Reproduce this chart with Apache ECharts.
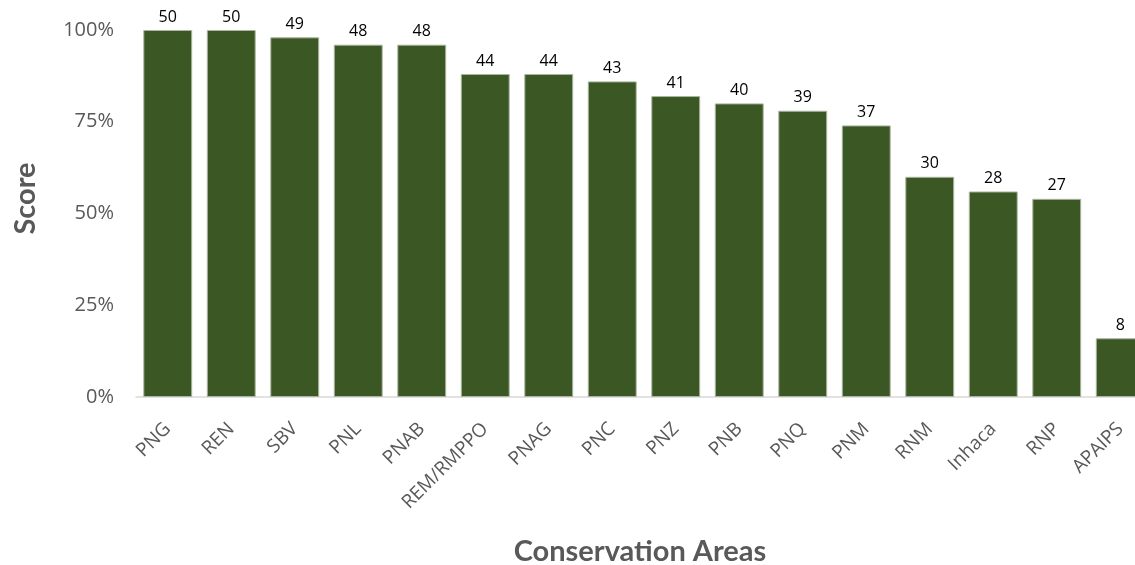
<!DOCTYPE html>
<html><head><meta charset="utf-8">
<script src="https://cdn.jsdelivr.net/npm/echarts@6/dist/echarts.min.js"></script>
<style>html,body{margin:0;padding:0;background:#fff}#c{width:1135px;height:565px}</style>
</head><body><div id="c"></div>
<script>
const categories = ['PNG','REN','SBV','PNL','PNAB','REM/RMPPO','PNAG','PNC','PNZ','PNB','PNQ','PNM','RNM','Inhaca','RNP','APAIPS'];
const scores = [50,50,49,48,48,44,44,43,41,40,39,37,30,28,27,8];
const maxScore = 50;
const yTicks = [0,25,50,75,100];

const pct = scores.map(s => s / maxScore * 100);
const font = '"Open Sans", "Noto Sans", sans-serif';
const titleFont = 'Lato, "Open Sans", sans-serif';
const chart = echarts.init(document.getElementById('c'));
chart.setOption({
  animation: false,
  grid: { left: 136, top: 30, width: 1016, bottom: 168, containLabel: false, outerBoundsMode: 'none' },
  xAxis: {
    type: 'category', data: categories,
    axisLine: { lineStyle: { color: '#d9d9d9', width: 1.5 } },
    axisTick: { show: false },
    axisLabel: { rotate: 45, margin: 29, color: '#595959', fontSize: 19, fontFamily: font, interval: 0 },
    name: 'Conservation Areas', nameLocation: 'middle', nameGap: 140,
    nameTextStyle: { color: '#595959', fontSize: 29, fontWeight: 'bold', fontFamily: titleFont, padding: [0, 8, 0, 0] }
  },
  yAxis: {
    type: 'value', min: yTicks[0], max: yTicks[yTicks.length-1], interval: yTicks[1]-yTicks[0],
    axisLine: { show: false }, axisTick: { show: false }, splitLine: { show: false },
    axisLabel: { formatter: '{value}%', color: '#595959', fontSize: 20, fontFamily: font, margin: 22 },
    name: 'Score', nameLocation: 'middle', nameGap: 96, nameRotate: 90,
    nameTextStyle: { color: '#595959', fontSize: 29, fontWeight: 'bold', fontFamily: titleFont, padding: [0, 0, 0, 30] }
  },
  series: [{
    type: 'bar', data: pct, barCategoryGap: '23%',
    itemStyle: { color: '#3b5724', borderColor: '#aab59f', borderWidth: 1 },
    label: {
      show: true, position: 'top', distance: 5, color: '#000', fontSize: 16, fontFamily: font,
      formatter: p => scores[p.dataIndex]
    }
  }]
});
</script></body></html>
